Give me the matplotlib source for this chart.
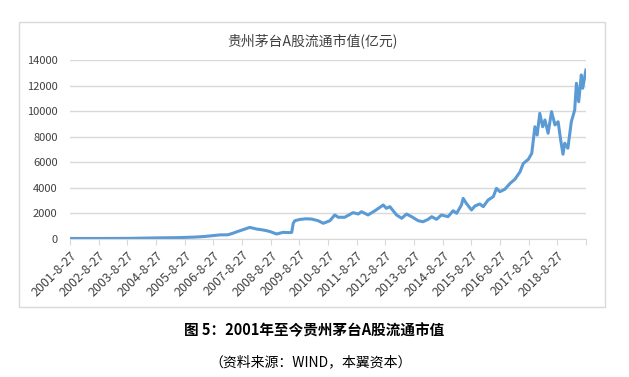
import matplotlib
matplotlib.use("Agg")
import matplotlib.pyplot as plt
import pandas as pd
from matplotlib.patches import Rectangle

plt.rcParams["font.family"] = ["Noto Sans CJK SC", "DejaVu Sans"]

# values (亿元)
dates = [
    "2001-08-27", "2002-09-13", "2003-09-27", "2004-10-15", "2005-06-28",
    "2006-01-05", "2006-05-12", "2006-09-16", "2006-11-17", "2007-02-28",
    "2007-05-04", "2007-06-25", "2007-09-06", "2007-12-05", "2008-02-28",
    "2008-05-08", "2008-07-05", "2008-08-29", "2008-11-10", "2009-01-30",
    "2009-04-16", "2009-05-22", "2009-06-10", "2009-07-01", "2009-09-02",
    "2009-11-17", "2010-01-30", "2010-04-23", "2010-06-28", "2010-09-20",
    "2010-11-21", "2011-01-05", "2011-03-28", "2011-07-12", "2011-09-16",
    "2011-10-27", "2012-01-19", "2012-04-16", "2012-07-31", "2012-09-09",
    "2012-10-23", "2013-01-16", "2013-03-23", "2013-05-23", "2013-07-27",
    "2013-10-19", "2013-12-20", "2014-02-24", "2014-04-09", "2014-06-10",
    "2014-08-11", "2014-11-03", "2015-01-08", "2015-02-21", "2015-04-23",
    "2015-05-15", "2015-06-24", "2015-08-29", "2015-10-12", "2015-12-13",
    "2016-01-26", "2016-03-28", "2016-06-02", "2016-07-12", "2016-08-25",
    "2016-10-27", "2017-01-03", "2017-03-04", "2017-05-09", "2017-06-18",
    "2017-08-22", "2017-10-05", "2017-11-14", "2017-12-13", "2018-01-15",
    "2018-02-21", "2018-03-22", "2018-05-01", "2018-06-14", "2018-07-28",
    "2018-09-06", "2018-10-05", "2018-11-07", "2018-11-29", "2019-01-08",
    "2019-02-21", "2019-04-05", "2019-04-27", "2019-05-26", "2019-06-28",
    "2019-07-16", "2019-08-26",
]
market_cap = [
    40, 40, 50, 90, 110,
    150, 200, 280, 320, 330,
    450, 570, 720, 910, 780,
    720, 650, 560, 390, 520,
    500, 520, 1230, 1430, 1530,
    1580, 1560, 1430, 1230, 1430,
    1880, 1700, 1700, 2060, 1955,
    2135, 1880, 2210, 2660, 2400,
    2530, 1880, 1620, 1955, 1745,
    1430, 1350, 1540, 1745, 1540,
    1880, 1745, 2210, 2010, 2660,
    3180, 2790, 2270, 2580, 2740,
    2530, 3050, 3310, 3960, 3700,
    3890, 4360, 4670, 5260, 5900,
    6230, 6700, 8780, 8130, 9830,
    8780, 9310, 8270, 9960, 8920,
    9170, 7880, 6630, 7490, 7100,
    9170, 10090, 12180, 10740, 12830,
    11790, 13220,
]
tick_labels = ["%d-8-27" % y for y in range(2001, 2019)]

x = pd.to_datetime(dates)
ticks = pd.to_datetime(["%d-08-27" % y for y in range(2001, 2020)])

fig = plt.figure(figsize=(6.29, 3.77), dpi=100)

# outer chart frame
fig.patches.append(Rectangle((19 / 629, 1 - 307 / 377), 586 / 629, 285 / 377,
                             transform=fig.transFigure, fill=False,
                             edgecolor="#D9D9D9", linewidth=1))

ax = fig.add_axes([70 / 629, 1 - 239 / 377, 516 / 629, 179 / 377])
ax.plot(x, market_cap, color="#5B9BD5", linewidth=2.2)

ax.set_ylim(0, 14000)
ax.set_yticks(range(0, 14001, 2000))
ax.set_xlim(ticks[0], ticks[-1])
ax.set_xticks(ticks)
ax.set_xticklabels(tick_labels + [""], rotation=45, ha="right",
                   rotation_mode="anchor")
ax.tick_params(axis="x", length=4, color="#D9D9D9", labelsize=9,
               labelcolor="#404040", pad=3)
ax.tick_params(axis="y", length=0, labelsize=8, labelcolor="#404040", pad=9)
ax.grid(axis="y", color="#D9D9D9", linewidth=1)
ax.set_axisbelow(True)
for s in ["top", "right", "left"]:
    ax.spines[s].set_visible(False)
ax.spines["bottom"].set_color("#D9D9D9")

fig.text(312 / 629, 1 - 41 / 377, "贵州茅台A股流通市值(亿元)", ha="center",
         va="center", fontsize=10, color="#404040")
fig.text(314 / 629, 1 - 330 / 377, "图 5：2001年至今贵州茅台A股流通市值",
         ha="center", va="center", fontsize=10.5, fontweight="bold",
         color="black")
fig.text(311 / 629, 1 - 362 / 377, "（资料来源：WIND，本翼资本）",
         ha="center", va="center", fontsize=10, color="black")

fig.savefig("out.png", dpi=100)
